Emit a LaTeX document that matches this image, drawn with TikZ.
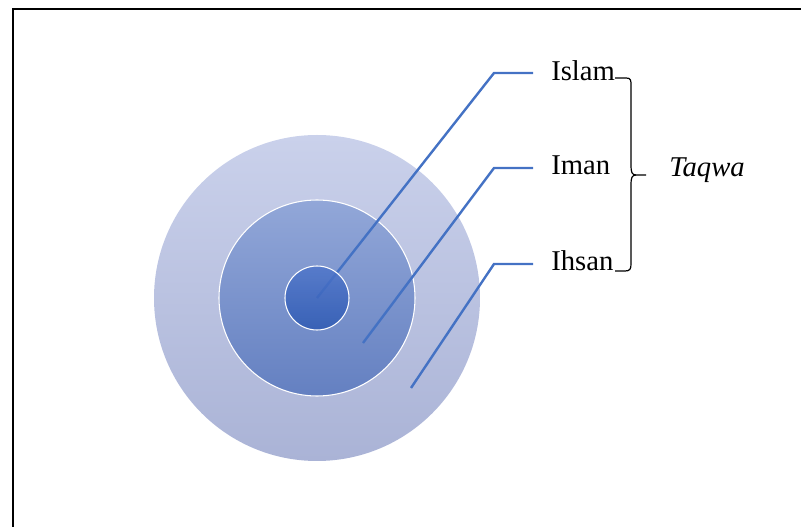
\documentclass[tikz,border=0pt]{standalone}
\usepackage{fontspec}
\setmainfont{Liberation Serif}
\usepackage{xcolor}
\definecolor{LeadBlue}{RGB}{68,114,196}
\definecolor{OuterTop}{RGB}{202,209,235}
\definecolor{OuterBot}{RGB}{170,179,214}
\definecolor{MidTop}{RGB}{146,167,216}
\definecolor{MidBot}{RGB}{100,128,193}
\definecolor{InTop}{RGB}{78,117,202}
\definecolor{InBot}{RGB}{44,88,178}
\usetikzlibrary{positioning, calc}
\tikzset{
  % Concentric ring
  ring/.style={
    circle, inner sep=0pt
  },
  % Leader line
  leader/.style={LeadBlue, line width=1.8pt, line join=miter},
  % Labels
  lbl/.style={font=\fontsize{21.5}{26}\selectfont, inner sep=0pt, anchor=base west},
  brace/.style={black, line width=0.9pt},
}
\begin{document}
\begin{tikzpicture}[x=0.75pt, y=-0.75pt]
  \useasboundingbox (0,0) rectangle (801,527);
  % Frame
  \draw[black, line width=2pt] (801,9) -- (13,9) -- (13,527);

  % Rings
  \node[ring, minimum size=244.5pt, top color=OuterTop, bottom color=OuterBot] (outer) at (317,298) {};
  \node[ring, minimum size=147pt, top color=MidTop, bottom color=MidBot, draw=white, line width=0.8pt] (middle) at (317,298) {};

  % Anchor points of the leaders
  \coordinate (s1) at (317,298);
  \coordinate (s2) at (363,343);
  \coordinate (s3) at (411,388);
  \coordinate (e1) at (494,73);
  \coordinate (e2) at (494,168);
  \coordinate (e3) at (494,264);

  % Labels
  \node[lbl] (islam) at (551,81) {Islam};
  \node[lbl] (iman) at (551,175) {Iman};
  \node[lbl] (ihsan) at (551,271) {Ihsan};
  \node[lbl] (taqwa) at (669,177) {\itshape Taqwa};

  % Leaders
  \foreach \i/\t in {1/islam, 2/iman, 3/ihsan}{
    \draw[leader] (s\i) -- (e\i) -- ($(e\i -| \t.west) + (-18,0)$);
  }

  \node[ring, minimum size=48pt, top color=InTop, bottom color=InBot, draw=white, line width=0.8pt, fill opacity=0.82] (inner) at (317,298) {};

  % Brace
  \coordinate (btop) at (615,78);
  \coordinate (bbot) at (615,271);
  \coordinate (btip) at (646,175);
  \draw[brace] (btop) -- (626,78) .. controls (631,78) and (631,80) .. (631,86)
    -- (631,166) .. controls (631,172) and (632,175) .. (636,175) -- (btip);
  \draw[brace] (636,175) .. controls (632,175) and (631,178) .. (631,184)
    -- (631,264) .. controls (631,269) and (630,271) .. (625,271) -- (bbot);
\end{tikzpicture}
\end{document}
